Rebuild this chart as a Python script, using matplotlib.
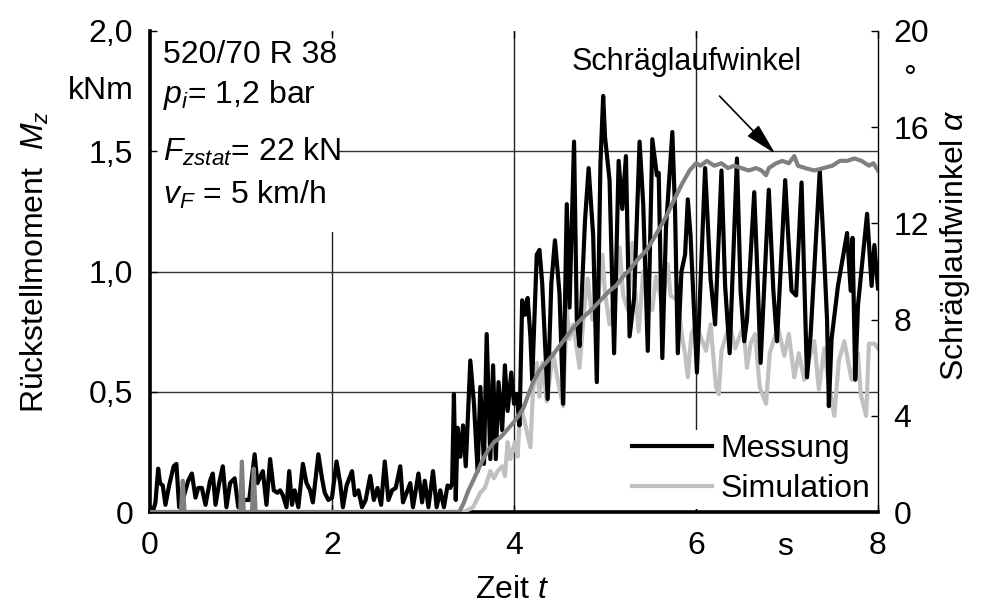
import matplotlib
matplotlib.use("Agg")
import matplotlib.pyplot as plt
from matplotlib.patches import Rectangle

# ---- measured restoring moment Mz (kNm) over time (s) ----
mess_t = [0.00, 0.03, 0.06, 0.09, 0.11, 0.14, 0.17, 0.21, 0.26, 0.29, 0.32, 0.36, 0.42, 0.46, 0.50,
          0.53, 0.57, 0.61, 0.66, 0.69, 0.72, 0.76, 0.80, 0.84, 0.88, 0.93, 0.97, 1.03, 1.09, 1.15,
          1.18, 1.24, 1.28, 1.32, 1.36, 1.40, 1.43, 1.46, 1.50, 1.53, 1.56, 1.59, 1.63, 1.68, 1.72,
          1.76, 1.79, 1.85, 1.89, 1.92, 1.96, 2.00, 2.05, 2.09, 2.12, 2.16, 2.22, 2.25, 2.29, 2.33,
          2.37, 2.42, 2.46, 2.50, 2.54, 2.58, 2.62, 2.66, 2.70, 2.75, 2.78, 2.82, 2.86, 2.89, 2.95,
          2.99, 3.02, 3.06, 3.11, 3.15, 3.19, 3.23, 3.27, 3.30, 3.32, 3.34, 3.36, 3.38, 3.41, 3.44,
          3.47, 3.52, 3.56, 3.60, 3.63, 3.67, 3.70, 3.74, 3.77, 3.80, 3.83, 3.87, 3.90, 3.93, 3.97,
          4.00, 4.03, 4.06, 4.09, 4.12, 4.15, 4.18, 4.20, 4.25, 4.28, 4.31, 4.37, 4.41, 4.45, 4.50,
          4.54, 4.58, 4.61, 4.66, 4.69, 4.72, 4.78, 4.82, 4.87, 4.91, 4.95, 4.98, 5.00, 5.05, 5.10,
          5.15, 5.19, 5.23, 5.27, 5.32, 5.38, 5.42, 5.47, 5.52, 5.57, 5.59, 5.63, 5.67, 5.74, 5.77,
          5.80, 5.84, 5.88, 5.91, 5.94, 6.01, 6.10, 6.13, 6.16, 6.21, 6.28, 6.32, 6.37, 6.45, 6.49,
          6.53, 6.56, 6.64, 6.67, 6.71, 6.80, 6.85, 6.89, 6.98, 7.01, 7.05, 7.10, 7.16, 7.22, 7.26,
          7.36, 7.40, 7.44, 7.46, 7.49, 7.56, 7.66, 7.70, 7.72, 7.75, 7.78, 7.88, 7.93, 7.96, 8.00]
mess_m = [0.02, 0.00, 0.04, 0.18, 0.12, 0.11, 0.03, 0.11, 0.19, 0.20, 0.02, 0.05, 0.13, 0.16, 0.06,
          0.10, 0.10, 0.03, 0.13, 0.16, 0.03, 0.12, 0.19, 0.02, 0.12, 0.14, 0.02, 0.05, 0.05, 0.24,
          0.12, 0.17, 0.03, 0.22, 0.09, 0.08, 0.09, 0.07, 0.02, 0.17, 0.03, 0.09, 0.02, 0.20, 0.12,
          0.09, 0.04, 0.24, 0.14, 0.08, 0.05, 0.06, 0.21, 0.12, 0.02, 0.11, 0.17, 0.07, 0.09, 0.02,
          0.05, 0.15, 0.05, 0.10, 0.03, 0.21, 0.05, 0.09, 0.10, 0.19, 0.04, 0.08, 0.12, 0.02, 0.16,
          0.04, 0.13, 0.02, 0.17, 0.02, 0.09, 0.02, 0.11, 0.10, 0.12, 0.49, 0.05, 0.35, 0.23, 0.36,
          0.19, 0.63, 0.45, 0.17, 0.52, 0.20, 0.74, 0.22, 0.61, 0.22, 0.54, 0.34, 0.61, 0.42, 0.58,
          0.45, 0.49, 0.36, 0.88, 0.82, 0.89, 0.73, 0.55, 1.07, 1.09, 0.95, 0.47, 0.95, 1.13, 0.91,
          0.45, 1.28, 0.85, 1.54, 0.80, 0.69, 1.21, 1.43, 1.15, 0.54, 1.45, 1.73, 1.56, 1.38, 0.66,
          1.46, 1.26, 1.48, 0.73, 0.89, 1.54, 1.28, 0.67, 1.55, 1.40, 1.41, 0.64, 1.18, 1.58, 1.25,
          0.66, 1.00, 1.07, 1.30, 1.15, 0.58, 1.43, 1.20, 0.97, 0.78, 1.42, 0.94, 0.66, 1.47, 0.92,
          0.71, 0.80, 1.33, 1.04, 0.62, 1.34, 0.92, 0.71, 1.38, 1.17, 0.92, 0.90, 1.37, 0.56, 0.74,
          1.42, 1.13, 0.80, 0.44, 0.72, 0.94, 1.16, 0.92, 1.14, 0.55, 0.86, 1.24, 0.94, 1.11, 0.93]

# ---- simulated restoring moment Mz (kNm) ----
sim_t = [0.00, 3.45, 3.55, 3.63, 3.68, 3.74, 3.78, 3.82, 3.87, 3.90, 3.93, 3.96, 4.01, 4.04, 4.07,
         4.12, 4.18, 4.21, 4.25, 4.28, 4.31, 4.36, 4.43, 4.48, 4.54, 4.58, 4.61, 4.65, 4.72, 4.78,
         4.81, 4.86, 4.91, 4.97, 5.00, 5.05, 5.12, 5.16, 5.20, 5.25, 5.30, 5.33, 5.37, 5.42, 5.47,
         5.52, 5.56, 5.63, 5.69, 5.72, 5.80, 5.85, 5.88, 5.91, 5.95, 6.00, 6.04, 6.11, 6.16, 6.22,
         6.25, 6.28, 6.37, 6.43, 6.52, 6.56, 6.60, 6.65, 6.70, 6.77, 6.81, 6.90, 6.97, 7.02, 7.08,
         7.13, 7.19, 7.24, 7.30, 7.35, 7.41, 7.45, 7.52, 7.57, 7.63, 7.71, 7.78, 7.81, 7.87, 7.90,
         7.96, 8.00]
sim_m = [0.00, 0.00, 0.02, 0.08, 0.10, 0.17, 0.14, 0.17, 0.19, 0.15, 0.29, 0.22, 0.29, 0.23, 0.45,
         0.37, 0.27, 0.51, 0.62, 0.48, 0.62, 0.46, 0.66, 0.55, 0.44, 0.84, 0.72, 0.78, 0.60, 0.88,
         0.97, 0.80, 0.84, 1.07, 0.91, 0.78, 0.94, 1.10, 0.90, 0.84, 1.12, 0.93, 0.75, 1.00, 0.90,
         0.84, 0.98, 0.86, 1.03, 0.90, 0.88, 0.72, 0.66, 0.56, 0.74, 0.78, 0.74, 0.67, 0.78, 0.52,
         0.49, 0.67, 0.78, 0.68, 0.77, 0.60, 0.70, 0.74, 0.52, 0.45, 0.66, 0.77, 0.65, 0.74, 0.56,
         0.66, 0.55, 0.63, 0.71, 0.51, 0.68, 0.55, 0.40, 0.63, 0.71, 0.55, 0.66, 0.49, 0.40, 0.70,
         0.70, 0.68]

# ---- slip angle alpha (deg) ----
alpha_t = [0.00, 0.34, 0.36, 0.38, 0.99, 1.01, 1.03, 1.12, 1.14, 1.16, 3.40, 3.45, 3.50, 3.55,
           3.60, 3.66, 3.72, 3.78, 3.85, 3.92, 3.99, 4.05, 4.10, 4.15, 4.21, 4.28, 4.35, 4.42,
           4.50, 4.58, 4.66, 4.76, 4.85, 4.95, 5.05, 5.12, 5.20, 5.28, 5.36, 5.46, 5.57, 5.66,
           5.75, 5.84, 5.93, 6.00, 6.05, 6.12, 6.20, 6.28, 6.35, 6.42, 6.50, 6.58, 6.66, 6.72,
           6.77, 6.80, 6.88, 6.95, 7.02, 7.08, 7.12, 7.20, 7.30, 7.40, 7.50, 7.58, 7.66, 7.74,
           7.82, 7.90, 7.95, 8.00]
alpha_deg = [0.0, 0.0, 1.3, 0.0, 0.0, 2.1, 0.0, 0.0, 1.8, 0.0, 0.0, 0.4, 0.9, 1.3,
             1.7, 2.2, 2.6, 2.9, 3.1, 3.4, 3.7, 4.0, 4.3, 4.8, 5.4, 5.9, 6.2, 6.5,
             6.9, 7.3, 7.7, 8.1, 8.4, 8.8, 9.2, 9.4, 9.8, 10.1, 10.5, 10.9, 11.6, 12.2,
             12.9, 13.6, 14.2, 14.5, 14.4, 14.6, 14.4, 14.5, 14.3, 14.4, 14.3, 14.2, 14.3, 14.2,
             14.0, 14.3, 14.5, 14.6, 14.5, 14.8, 14.4, 14.3, 14.2, 14.3, 14.4, 14.6, 14.6, 14.7,
             14.6, 14.4, 14.5, 14.2]

x_ticks = [0, 2, 4, 6, 8]
x_labels = ["0", "2", "4", "6", "8"]
m_ticks = [0, 0.5, 1.0, 1.5, 2.0]
m_labels = ["0", "0,5", "1,0", "1,5", "2,0"]
a_ticks = [0, 4, 8, 12, 16, 20]
a_labels = ["0", "4", "8", "12", "16", "20"]

plt.rcParams["font.family"] = ["Liberation Sans", "DejaVu Sans"]
plt.rcParams["mathtext.fontset"] = "custom"
plt.rcParams["mathtext.rm"] = "Liberation Sans"
plt.rcParams["mathtext.it"] = "Liberation Sans:italic"
plt.rcParams["mathtext.bf"] = "Liberation Sans:bold"

FS = 23
LW = 3.0
W, H = 981, 608
fig = plt.figure(figsize=(W / 100, H / 100), dpi=100)
fig.patch.set_facecolor("white")
ax = fig.add_axes([150 / W, 1 - 512 / H, 728 / W, 481 / H])

ax.set_xlim(0, 8)
ax.set_ylim(0, 2.0)

# grid lines inside the plot area
for xv in (2, 4, 6):
    ax.axvline(xv, color="#222222", lw=1.0, zorder=1)
for yv in (0.5, 1.0, 1.5):
    ax.axhline(yv, color="#333333", lw=1.0, zorder=1)

# white field behind the parameter block
ax.add_patch(Rectangle((0, 0.582), 0.257, 0.41, transform=ax.transAxes,
                       facecolor="white", edgecolor="none", zorder=1.5))

ax.plot(sim_t, sim_m, color="#c0c0c0", lw=LW, zorder=3, label="Simulation")
ax.plot(mess_t, mess_m, color="black", lw=LW, zorder=4, label="Messung")

ax.set_xticks(x_ticks)
ax.set_xticklabels(x_labels)
ax.set_yticks(m_ticks)
ax.set_yticklabels(m_labels)
ax.tick_params(axis="both", direction="in", length=5, width=1, labelsize=FS)
ax.tick_params(axis="x", pad=14, top=True)
ax.tick_params(axis="y", pad=12)

for s in ("left", "bottom"):
    ax.spines[s].set_linewidth(2.6)
ax.spines["top"].set_visible(False)
ax.spines["right"].set_visible(False)

# slip angle on the right-hand scale
ax2 = ax.twinx()
ax2.set_ylim(0, 20)
ax2.plot(alpha_t, alpha_deg, color="#808080", lw=LW, zorder=5)
ax2.set_yticks(a_ticks)
ax2.set_yticklabels(a_labels)
ax2.tick_params(axis="y", direction="in", length=5, width=1, labelsize=FS, pad=11)
for s in ("left", "top", "bottom"):
    ax2.spines[s].set_visible(False)
ax2.spines["right"].set_linewidth(1.0)

# legend (Messung first)
h, l = ax.get_legend_handles_labels()
leg = ax.legend(h[::-1], l[::-1], loc="lower right", fontsize=FS, frameon=True,
                facecolor="white", edgecolor="none", framealpha=1, fancybox=False,
                handlelength=2.5, handletextpad=0.25, borderpad=0.15, labelspacing=0.3,
                borderaxespad=0.1)
leg.set_zorder(6)

# unit labels placed in the tick label columns
ax.text(-0.023, 1.75, "kNm", transform=ax.get_yaxis_transform(), ha="right",
        va="center", fontsize=FS)
ax2.text(1.035, 18.0, "°", transform=ax2.get_yaxis_transform(), ha="left",
         va="center", fontsize=FS)
fig.text(785 / W, 1 - 547 / H, "s", ha="center", va="center", fontsize=FS)

# axis titles
fig.text(35 / W, 1 - 262 / H, "Rückstellmoment  $M_z$", rotation=90, ha="center",
         va="center", fontsize=FS)
fig.text(955 / W, 1 - 245 / H, "Schräglaufwinkel $\\alpha$", rotation=90, ha="center",
         va="center", fontsize=FS)
fig.text(512 / W, 1 - 590 / H, "Zeit $t$", ha="center", va="center", fontsize=FS)

# parameter block
params = ["520/70 R 38", "$p_i$= 1,2 bar", "$F_{zstat}$= 22 kN", "$v_F$ = 5 km/h"]
ys = [55, 95, 152, 195]
for txt, yp in zip(params, ys):
    fig.text(163 / W, 1 - yp / H, txt, ha="left", va="center", fontsize=FS, zorder=10)

# arrow label for the slip angle curve
ax2.annotate("Schräglaufwinkel", xy=(6.87, 14.9), xytext=(5.9, 18.7),
             ha="center", va="center", fontsize=22,
             arrowprops=dict(arrowstyle="-|>,head_length=0.9,head_width=0.22",
                             color="black", lw=1.2, shrinkA=16, shrinkB=0))

fig.savefig("out.png", dpi=100)
